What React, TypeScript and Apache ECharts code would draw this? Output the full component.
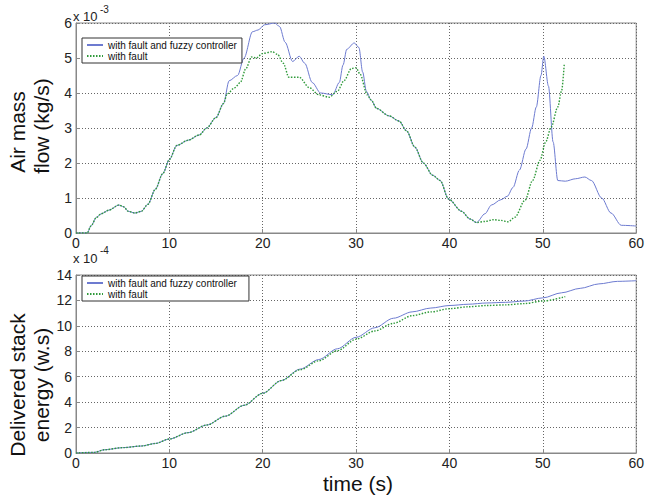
import React, { useEffect, useRef } from "react";
import * as echarts from "echarts";

// Top subplot: air mass flow (x 1e-3 kg/s)
const flowFuzzyT = [0, 1.2, 1.6, 2.2, 2.7, 3.5, 4.6, 5.1, 5.6, 6.3, 7.0, 7.7, 8.5, 9.3, 10.0, 10.8, 12.0, 13.2, 14.0, 15.0, 15.8, 16.4, 17.3, 18.0, 18.9, 19.5, 20.2, 21.3, 21.8, 22.4, 23.2, 23.9, 24.5, 25.3, 26.2, 27.5, 28.2, 28.6, 29.0, 29.8, 30.3, 30.7, 31.1, 31.6, 32.2, 33.5, 34.6, 35.4, 36.3, 37.2, 38.2, 39.0, 39.9, 41.3, 42.2, 42.9, 43.8, 44.5, 45.5, 46.2, 46.8, 47.5, 48.2, 48.8, 49.3, 49.8, 50.1, 50.6, 51.1, 51.6, 52.4, 53.5, 54.5, 55.2, 56.3, 57.3, 58.4, 60];
const flowFuzzyV = [0, 0, 0.2, 0.45, 0.55, 0.65, 0.8, 0.75, 0.62, 0.57, 0.62, 0.82, 1.25, 1.7, 2.1, 2.5, 2.65, 2.8, 3.0, 3.3, 3.7, 4.35, 4.5, 5.0, 5.75, 5.8, 5.95, 6.0, 5.9, 5.45, 4.9, 5.05, 4.85, 4.3, 4.0, 3.95, 4.3, 4.8, 5.25, 5.43, 5.3, 4.6, 4.05, 3.8, 3.56, 3.35, 3.2, 2.92, 2.45, 2.0, 1.65, 1.5, 0.97, 0.62, 0.4, 0.3, 0.55, 0.8, 0.95, 1.05, 1.3, 1.8, 2.4, 3.0, 3.6, 4.5, 5.05, 4.2, 2.6, 1.5, 1.48, 1.55, 1.6, 1.5, 1.0, 0.57, 0.22, 0.2];
const flowFaultT = [0, 1.2, 1.6, 2.2, 2.7, 3.5, 4.6, 5.1, 5.6, 6.3, 7.0, 7.7, 8.5, 9.3, 10.0, 10.8, 12.0, 13.2, 14.0, 15.0, 15.8, 16.2, 17.0, 17.6, 18.2, 18.8, 19.3, 20.0, 21.0, 21.6, 22.2, 22.8, 23.9, 25.0, 26.0, 27.1, 28.0, 28.7, 29.5, 30.0, 30.4, 31.2, 31.6, 32.2, 33.5, 34.6, 35.4, 36.3, 37.2, 38.2, 39.0, 39.9, 41.3, 42.2, 42.9, 43.8, 44.7, 45.5, 46.3, 47.0, 48.1, 48.9, 49.7, 50.3, 50.9, 51.6, 52.0, 52.3];
const flowFaultV = [0, 0, 0.2, 0.45, 0.55, 0.65, 0.8, 0.75, 0.62, 0.57, 0.62, 0.82, 1.25, 1.7, 2.1, 2.5, 2.65, 2.8, 3.0, 3.3, 3.7, 3.98, 4.15, 4.3, 4.7, 5.03, 5.0, 5.13, 5.18, 5.1, 4.85, 4.45, 4.45, 4.15, 3.95, 3.88, 4.05, 4.35, 4.7, 4.72, 4.55, 3.95, 3.8, 3.56, 3.35, 3.2, 2.92, 2.45, 2.0, 1.65, 1.5, 0.97, 0.62, 0.4, 0.3, 0.33, 0.38, 0.36, 0.32, 0.45, 0.94, 1.5, 2.08, 2.6, 3.03, 3.6, 4.05, 4.85];

// Bottom subplot: delivered stack energy (x 1e-4 w.s)
const energyFuzzyT = [0, 2, 3, 5, 7, 8.5, 10, 12, 14, 16, 18, 20, 22, 24, 26, 28, 30, 32, 34, 36, 38, 40, 42, 44, 46, 48, 50, 52, 54, 56, 58, 60];
const energyFuzzyV = [0, 0.05, 0.25, 0.42, 0.55, 0.75, 1.1, 1.6, 2.2, 2.9, 3.75, 4.7, 5.7, 6.6, 7.35, 8.2, 9.1, 9.85, 10.6, 11.1, 11.4, 11.6, 11.7, 11.8, 11.85, 11.95, 12.2, 12.6, 12.95, 13.3, 13.5, 13.55];
const energyFaultT = [0, 2, 3, 5, 7, 8.5, 10, 12, 14, 16, 18, 20, 22, 24, 26, 28, 30, 32, 34, 36, 38, 40, 42, 44, 46, 48, 50, 52.4];
const energyFaultV = [0, 0.05, 0.25, 0.42, 0.55, 0.75, 1.1, 1.6, 2.2, 2.9, 3.75, 4.7, 5.7, 6.55, 7.25, 8.05, 8.95, 9.6, 10.2, 10.8, 11.1, 11.35, 11.5, 11.6, 11.65, 11.75, 11.95, 12.3];

const seriesNames = ["with fault and fuzzy controller", "with fault"];
const xTicks = [0, 10, 20, 30, 40, 50, 60];

const FONT = "Liberation Sans, Arial, Helvetica, sans-serif";
const BLUE = "#6d7bd0";
const GREEN = "#2f9a3a";

const pairs = (t: number[], v: number[]) => t.map((x, i) => [x, v[i]]);

export default function App() {
  const ref = useRef<HTMLDivElement>(null);
  useEffect(() => {
    document.body.style.margin = "0";
    const chart = echarts.init(ref.current!, null, { renderer: "svg" });
    const grids = [
      { left: 76, top: 23, width: 562, height: 210 },
      { left: 76, top: 275, width: 562, height: 178 },
    ];
    const xAxis = grids.map((_, i) => ({
      type: "value",
      gridIndex: i,
      min: xTicks[0],
      max: xTicks[xTicks.length - 1],
      interval: 10,
      axisLine: { show: true, lineStyle: { color: "#888" } },
      axisTick: { show: true, inside: true, length: 4, lineStyle: { color: "#888" } },
      axisLabel: { fontFamily: FONT, fontSize: 14, color: "#222", margin: 3 },
      splitLine: { show: true, lineStyle: { color: "#666", type: [1, 2], width: 1 } },
    }));
    const yAxis = [
      { min: 0, max: 6, interval: 1 },
      { min: 0, max: 14, interval: 2 },
    ].map((r, i) => ({
      type: "value",
      gridIndex: i,
      ...r,
      axisLine: { show: true, lineStyle: { color: "#888" } },
      axisTick: { show: true, inside: true, length: 4, lineStyle: { color: "#888" } },
      axisLabel: { fontFamily: FONT, fontSize: 14, color: "#222", margin: 4 },
      splitLine: { show: true, lineStyle: { color: "#666", type: [1, 2], width: 1 } },
    }));
    const mk = (name: string, data: number[][], idx: number, color: string, dotted: boolean) => ({
      type: "line",
      name,
      xAxisIndex: idx,
      yAxisIndex: idx,
      data,
      symbol: "none",
      smooth: 0.3,
      smoothMonotone: "x",
      lineStyle: { color, width: dotted ? 1.4 : 1, type: dotted ? [1.5, 1.5] : "solid" },
      itemStyle: { color },
    });
    const legendBase = {
      orient: "vertical",
      left: 82,
      itemWidth: 16,
      itemHeight: 10,
      itemGap: 1,
      padding: [2, 5, 2, 4],
      borderColor: "#333",
      borderWidth: 1,
      backgroundColor: "#fff",
      itemStyle: { opacity: 0 },
      textStyle: { fontFamily: FONT, fontSize: 10, color: "#111" },
      data: seriesNames,
      selectedMode: false,
    };
    chart.setOption({
      animation: false,
      backgroundColor: "#fff",
      grid: grids.map((g) => ({ ...g, show: true, borderColor: "#888", borderWidth: 1, backgroundColor: "#fff" })),
      xAxis,
      yAxis,
      legend: [
        { ...legendBase, top: 38 },
        { ...legendBase, top: 276, padding: [2, 12, 2, 4] },
      ],
      series: [
        mk(seriesNames[0], pairs(flowFuzzyT, flowFuzzyV), 0, BLUE, false),
        mk(seriesNames[1], pairs(flowFaultT, flowFaultV), 0, GREEN, true),
        mk(seriesNames[0], pairs(energyFuzzyT, energyFuzzyV), 1, BLUE, false),
        mk(seriesNames[1], pairs(energyFaultT, energyFaultV), 1, GREEN, true),
      ],
      graphic: [
        { type: "text", x: 73, y: 16, style: { text: "x 10", font: `13px ${FONT}`, fill: "#222", verticalAlign: "middle" } },
        { type: "text", x: 100, y: 9, style: { text: "-3", font: `10px ${FONT}`, fill: "#222", verticalAlign: "middle" } },
        { type: "text", x: 73, y: 258, style: { text: "x 10", font: `13px ${FONT}`, fill: "#222", verticalAlign: "middle" } },
        { type: "text", x: 100, y: 250, style: { text: "-4", font: `10px ${FONT}`, fill: "#222", verticalAlign: "middle" } },
        { type: "text", x: 17, y: 132, rotation: Math.PI / 2, style: { text: "Air mass", font: `21px ${FONT}`, fill: "#111", align: "center", verticalAlign: "middle" } },
        { type: "text", x: 41, y: 126, rotation: Math.PI / 2, style: { text: "flow (kg/s)", font: `21px ${FONT}`, fill: "#111", align: "center", verticalAlign: "middle" } },
        { type: "text", x: 17, y: 385, rotation: Math.PI / 2, style: { text: "Delivered stack", font: `21px ${FONT}`, fill: "#111", align: "center", verticalAlign: "middle" } },
        { type: "text", x: 41, y: 385, rotation: Math.PI / 2, style: { text: "energy (w.s)", font: `21px ${FONT}`, fill: "#111", align: "center", verticalAlign: "middle" } },
        { type: "text", x: 358, y: 483, style: { text: "time (s)", font: `21px ${FONT}`, fill: "#111", align: "center", verticalAlign: "middle" } },
      ],
    });
    return () => chart.dispose();
  }, []);
  return <div ref={ref} style={{ width: 647, height: 496 }} />;
}
